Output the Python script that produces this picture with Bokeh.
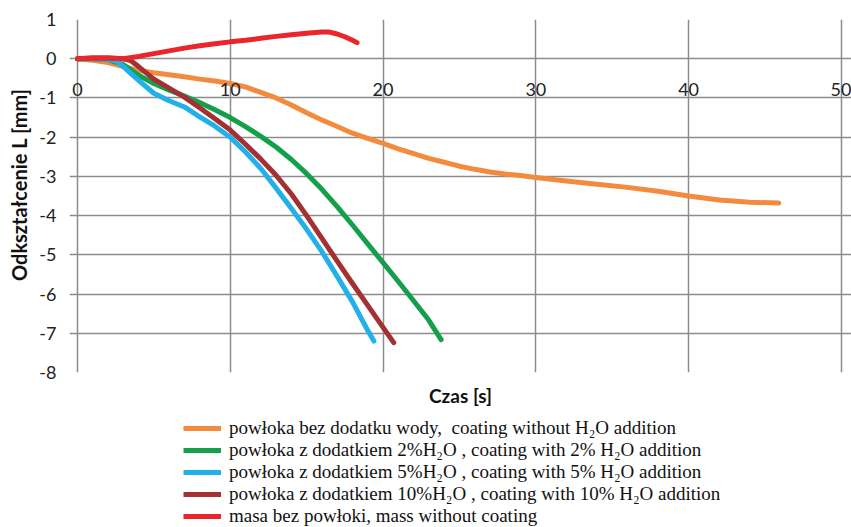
from bokeh.plotting import figure
from bokeh.layouts import column
from bokeh.models import LinearAxis, FixedTicker, Legend, LegendItem, Range1d, Title
from bokeh.embed import file_html
from bokeh.resources import INLINE

# --- data ---
t_orange = [0, 1, 2, 3, 4, 5, 6, 7, 8, 9, 10, 11, 12, 13, 14, 15, 16, 17, 18, 19, 20,
            21, 22, 23, 24, 25, 26, 27, 28, 29, 30, 32, 34, 36, 38, 40, 42, 44, 45.9]
v_orange = [0, -0.04, -0.1, -0.2, -0.3, -0.36, -0.41, -0.46, -0.52, -0.57, -0.63, -0.72,
            -0.86, -1.0, -1.18, -1.38, -1.56, -1.73, -1.9, -2.03, -2.16, -2.3, -2.42, -2.54,
            -2.64, -2.74, -2.82, -2.89, -2.94, -2.98, -3.03, -3.12, -3.2, -3.28, -3.38,
            -3.5, -3.6, -3.66, -3.68]

t_green = [0, 1, 2, 3, 4, 5, 6, 7, 8, 9, 10, 11, 12, 13, 14, 15, 16, 17, 18, 19, 20,
           21, 22, 23, 23.8]
v_green = [0, 0, -0.02, -0.15, -0.42, -0.63, -0.8, -0.95, -1.12, -1.3, -1.5, -1.73,
           -1.98, -2.25, -2.57, -2.93, -3.33, -3.77, -4.24, -4.72, -5.2, -5.68, -6.17,
           -6.67, -7.16]

t_blue = [0, 1, 2, 2.5, 3, 4, 5, 6, 7, 8, 9, 10, 11, 12, 13, 14, 15, 16, 17, 18, 19, 19.4]
v_blue = [0, 0, -0.02, -0.05, -0.2, -0.55, -0.88, -1.07, -1.23, -1.48, -1.72, -2.0,
          -2.38, -2.8, -3.3, -3.82, -4.35, -4.92, -5.55, -6.2, -6.93, -7.2]

t_darkred = [0, 1, 2, 3, 3.5, 4, 5, 6, 7, 8, 9, 10, 11, 12, 13, 14, 15, 16, 17, 18, 19,
             20, 20.7]
v_darkred = [0, 0.02, 0.02, 0, -0.05, -0.2, -0.52, -0.75, -0.98, -1.25, -1.53, -1.82,
             -2.18, -2.56, -2.97, -3.45, -4.0, -4.58, -5.16, -5.73, -6.29, -6.85, -7.24]

t_red = [0, 1, 2, 3, 4, 5, 6, 7, 8, 9, 10, 11, 12, 13, 14, 15, 16, 16.5, 17, 17.5, 18, 18.3]
v_red = [0, 0.02, 0.02, 0.0, 0.06, 0.13, 0.2, 0.27, 0.33, 0.38, 0.43, 0.47, 0.52, 0.57,
         0.61, 0.65, 0.68, 0.68, 0.63, 0.56, 0.47, 0.41]

x_ticks = [0, 10, 20, 30, 40, 50]
y_ticks = [1, 0, -1, -2, -3, -4, -5, -6, -7, -8]

labels = [
    "powłoka bez dodatku wody,  coating without H₂O addition",
    "powłoka z dodatkiem 2%H₂O , coating with 2% H₂O addition",
    "powłoka z dodatkiem 5%H₂O , coating with 5% H₂O addition",
    "powłoka z dodatkiem 10%H₂O , coating with 10% H₂O addition",
    "masa bez powłoki, mass without coating",
]
x_title = "Czas [s]"
y_title = "Odkształcenie L [mm]"

colors = ["#F38B3E", "#14A04B", "#22B0E8", "#A43034", "#E8262B"]

series = [(t_orange, v_orange), (t_green, v_green), (t_blue, v_blue),
          (t_darkred, v_darkred), (t_red, v_red)]

# --- main chart ---
p = figure(width=851, height=410, output_backend="svg", toolbar_location=None,
           x_range=Range1d(-0.52, 50.66), y_range=Range1d(-8, 1),
           min_border_left=69, min_border_right=0, min_border_top=19,
           min_border_bottom=38)
p.background_fill_color = "white"
p.border_fill_color = "white"
p.outline_line_color = None

grid_col = "#8c8c8c"
p.xgrid.ticker = FixedTicker(ticks=x_ticks)
p.ygrid.ticker = FixedTicker(ticks=y_ticks)
p.xgrid.bounds = (y_ticks[-1], y_ticks[0])
p.ygrid.bounds = (x_ticks[0], x_ticks[-1])
for g in (p.xgrid, p.ygrid):
    g.grid_line_color = grid_col
    g.grid_line_width = 1.5

tick_font = "Lato"
xa = p.xaxis[0]
xa.ticker = FixedTicker(ticks=x_ticks)
xa.fixed_location = 0
xa.axis_line_color = None
xa.major_tick_line_color = None
xa.minor_tick_line_color = None
xa.major_label_standoff = 18
xa.major_label_text_font = tick_font
xa.major_label_text_font_size = "18px"
xa.major_label_text_color = "#222222"

ya = p.yaxis[0]
ya.ticker = FixedTicker(ticks=y_ticks)
ya.major_label_overrides = {t: str(t) for t in y_ticks}
ya.axis_line_color = None
ya.major_tick_line_color = None
ya.minor_tick_line_color = None
ya.major_label_standoff = 7
ya.major_label_text_font = tick_font
ya.major_label_text_font_size = "18px"
ya.major_label_text_color = "#222222"

ytitle = Title(text=y_title, align="right", vertical_align="top", offset=69,
               standoff=8, text_font=tick_font, text_font_style="bold",
               text_font_size="20px", text_color="#111111")
p.add_layout(ytitle, "left")

xt = LinearAxis(ticker=FixedTicker(ticks=[]), axis_label=x_title,
                axis_line_color=None, major_tick_line_color=None,
                minor_tick_line_color=None,
                axis_label_text_font=tick_font, axis_label_text_font_style="bold",
                axis_label_text_font_size="19px", axis_label_text_color="#111111",
                axis_label_standoff=11)
p.add_layout(xt, "below")

for (t, v), c in zip(series, colors):
    p.line(t, v, line_color=c, line_width=5, line_cap="round", line_join="round")

# --- legend strip (same series, drawn outside its view; only the legend shows) ---
leg = figure(width=851, height=117, output_backend="svg", toolbar_location=None,
             x_range=Range1d(1000, 1001), y_range=Range1d(1000, 1001),
             x_axis_location=None, y_axis_location=None, min_border=0)
leg.outline_line_color = None
leg.xgrid.visible = False
leg.ygrid.visible = False
items = []
for (t, v), c, lab in zip(series, colors, labels):
    r = leg.line(t, v, line_color=c, line_width=5, line_cap="butt")
    items.append(LegendItem(label=lab, renderers=[r]))

legend = Legend(items=items, location=(114, 0), orientation="vertical",
                glyph_width=38, glyph_height=20, label_height=20, spacing=0,
                padding=0, margin=0, border_line_color=None,
                background_fill_alpha=0, label_text_font="Liberation Serif",
                label_text_font_size="19px", label_standoff=8,
                label_text_color="#111111")
leg.add_layout(legend, "center")

layout = column(p, leg, spacing=0)
open("out.html", "w").write(file_html(layout, INLINE))
